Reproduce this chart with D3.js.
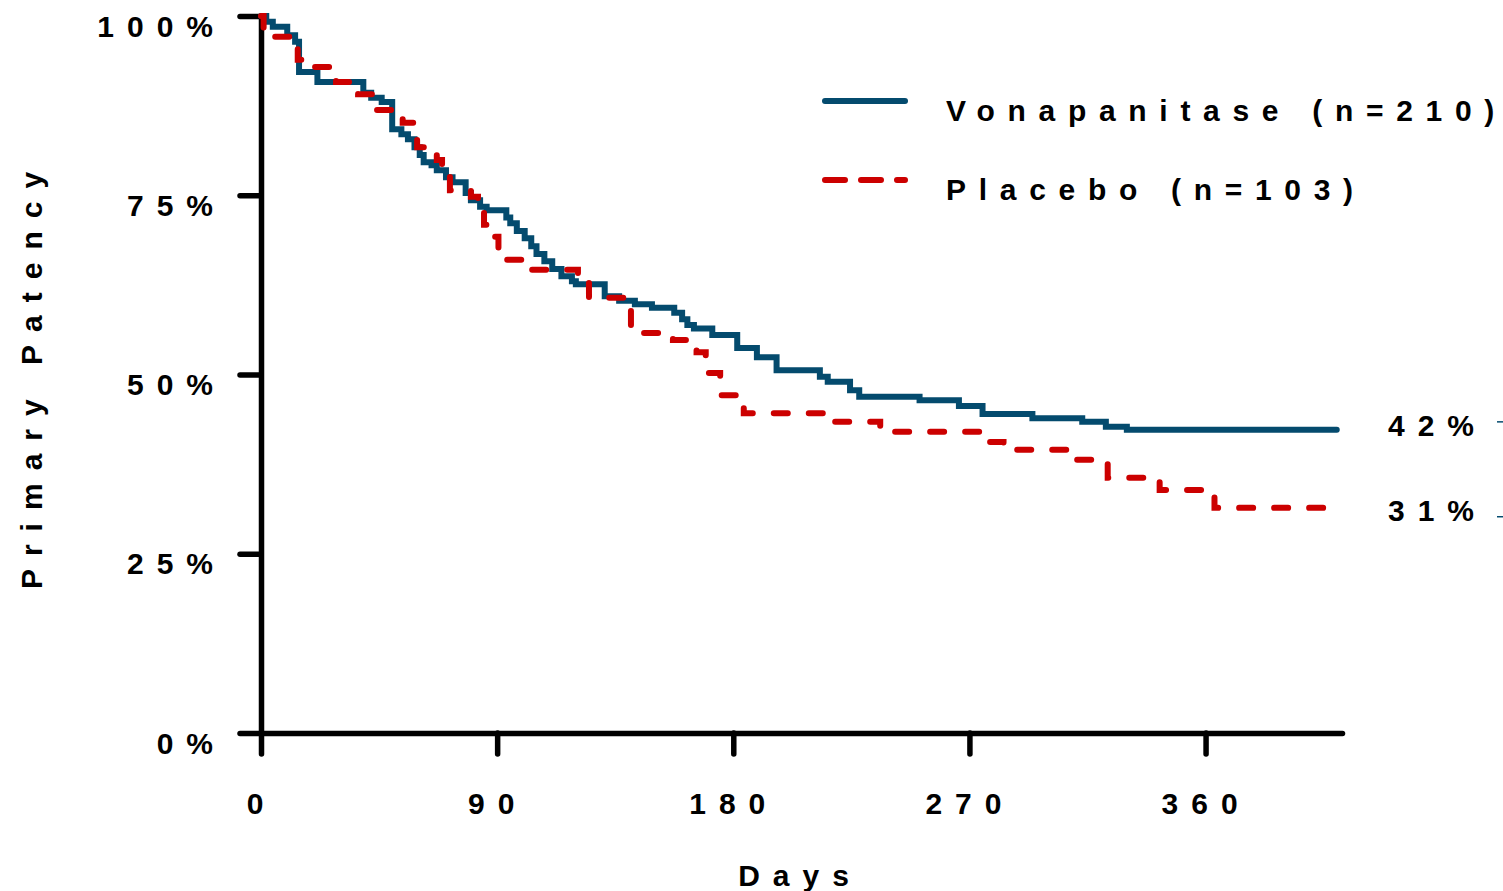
<!DOCTYPE html>
<html>
<head>
<meta charset="utf-8">
<script src="https://cdn.jsdelivr.net/npm/d3@7"></script>
<style>
  body { margin: 0; background: #fff; }
  text { font-family: "Liberation Sans", Arial, sans-serif; font-weight: bold; font-size: 30px; letter-spacing: 13px; fill: #000; }
</style>
</head>
<body>
<svg width="1503" height="891"></svg>
<script>
// Kaplan-Meier steps: day of the drop and % after it
const vonaDays = [0, 2, 4.5, 10, 13, 14.5, 21.5, 39, 42, 46, 50, 53.5, 56, 58.5, 60.5, 62, 65, 67, 70.5, 73, 78, 80, 83.5, 86, 93.5, 95, 97.5, 100.5, 103, 105, 108, 111, 114.5, 118.5, 120, 131, 136.5, 142.5, 149, 157.5, 160.5, 162.5, 165, 172, 181.5, 189, 196.5, 213, 216, 224.5, 228, 251, 266, 275, 294, 313, 322, 330, 410];
const vonaPct  = [100, 99.2, 98.5, 97.3, 96.4, 92.2, 90.8, 89.3, 88.6, 88.0, 84.2, 83.5, 82.8, 81.7, 80.6, 79.6, 79.2, 78.5, 77.5, 76.8, 75.3, 74.3, 73.4, 72.9, 71.9, 71.1, 70.0, 69.0, 67.9, 66.8, 65.8, 64.7, 63.7, 63.0, 62.6, 60.9, 60.3, 59.8, 59.3, 58.6, 57.7, 56.9, 56.4, 55.5, 53.7, 52.4, 50.6, 49.7, 49.0, 47.8, 46.9, 46.4, 45.6, 44.5, 43.9, 43.4, 42.7, 42.3, 42.3];

const placDays = [0, 1, 3.5, 14, 16, 28.6, 37, 43, 54, 58, 59.5, 67, 69, 72, 80, 82.7, 85, 86.5, 90.5, 101.5, 120.8, 125, 141, 157, 166, 169.5, 175, 184, 215, 236, 277, 283, 307, 322.7, 342.5, 363.4, 406.5];
const placPct  = [100, 98.3, 97.1, 93.9, 92.9, 90.8, 89.1, 86.9, 85.1, 83.4, 81.7, 79.9, 77.8, 75.7, 74.8, 72.9, 70.9, 69.2, 66.0, 64.6, 62.8, 60.7, 55.8, 54.8, 53.1, 50.2, 47.1, 44.6, 43.4, 42.0, 40.6, 39.5, 38.1, 35.6, 33.9, 31.4, 31.4];

const xTicks = [0, 90, 180, 270, 360];
const yTicks = [0, 25, 50, 75, 100];
const seriesNames = ["Vonapanitase (n=210)", "Placebo (n=103)"];
const endLabels = [42, 31];

const blue = "#044b6e";
const red = "#cc0000";

const svg = d3.select("svg");

const x = d3.scaleLinear().domain([0, 412]).range([261, 1342]);
const y = d3.scaleLinear().domain([0, 100]).range([733, 16]);

const line = d3.line()
	.x(d => x(d[0]))
	.y(d => y(d[1]))
	.curve(d3.curveStepAfter);

// axes
const yAxis = svg.append("g")
	.attr("transform", `translate(${x(0)},0)`)
	.call(d3.axisLeft(y).tickValues(yTicks).tickSize(21).tickSizeOuter(0).tickPadding(14).tickFormat(d => d + "%"));

const xAxis = svg.append("g")
	.attr("transform", `translate(0,${y(0)})`)
	.call(d3.axisBottom(x).tickValues(xTicks).tickSize(21).tickSizeOuter(0));

[yAxis, xAxis].forEach(g => {
	g.attr("font-size", null).attr("font-family", null);
	g.selectAll("path, line")
		.attr("stroke", "#000")
		.attr("stroke-width", 5.5)
		.attr("stroke-linecap", "round");
	g.selectAll("text").attr("fill", "#000");
});
yAxis.selectAll("text").attr("dy", 0).attr("y", 20);
xAxis.selectAll("text").attr("dy", 0).attr("y", 81);

// axis titles
svg.append("text")
	.attr("x", 800)
	.attr("y", 886)
	.attr("text-anchor", "middle")
	.text("Days");

svg.append("text")
	.attr("transform", "translate(42,374) rotate(-90)")
	.attr("text-anchor", "middle")
	.text("Primary Patency");

// curves
svg.append("path")
	.datum(d3.zip(vonaDays, vonaPct))
	.attr("fill", "none")
	.attr("stroke", blue)
	.attr("stroke-width", 6)
	.attr("stroke-linecap", "round")
	.attr("stroke-linejoin", "miter")
	.attr("d", line);

svg.append("path")
	.datum(d3.zip(placDays, placPct))
	.attr("fill", "none")
	.attr("stroke", red)
	.attr("stroke-width", 6)
	.attr("stroke-linecap", "round")
	.attr("stroke-dasharray", "14,21")
	.attr("d", line);

// legend
const legend = svg.append("g");
[blue, red].forEach((c, i) => {
	const ly = 101 + i * 79;
	legend.append("line")
		.attr("x1", 825).attr("x2", 905)
		.attr("y1", ly).attr("y2", ly)
		.attr("stroke", c)
		.attr("stroke-width", 6)
		.attr("stroke-linecap", "round")
		.attr("stroke-dasharray", i === 1 ? "20,16" : null);
	legend.append("text")
		.attr("x", 946)
		.attr("y", ly + 20)
		.style("letter-spacing", "12.7px")
		.text(seriesNames[i]);
});

// end-of-follow-up labels
endLabels.forEach((v, i) => {
	svg.append("text")
		.attr("x", 1388)
		.attr("y", y(v) + (i === 0 ? 4 : 10))
		.text(v + "%");
	svg.append("line")
		.attr("x1", 1497).attr("x2", 1503)
		.attr("y1", y(v) - (i === 0 ? 10 : -6)).attr("y2", y(v) - (i === 0 ? 10 : -6))
		.attr("stroke", blue)
		.attr("stroke-width", 1.5);
});
</script>
</body>
</html>
